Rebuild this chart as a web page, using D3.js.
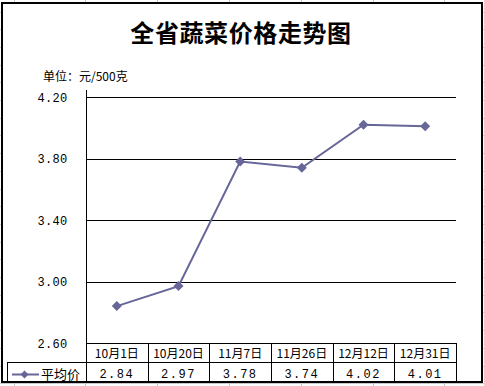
<!DOCTYPE html>
<html>
<head>
<meta charset="utf-8">
<script src="https://cdn.jsdelivr.net/npm/d3@7"></script>
<style>
  body { margin: 0; background: #fff; }
  svg { display: block; }
</style>
</head>
<body>
<svg width="484" height="386"></svg>
<script>
// data
const categories = ["10月1日", "10月20日", "11月7日", "11月26日", "12月12日", "12月31日"];
const prices = [2.84, 2.97, 3.78, 3.74, 4.02, 4.01];
const yTicks = [2.6, 3.0, 3.4, 3.8, 4.2];
const seriesName = "平均价";
const title = "全省蔬菜价格走势图";
const unitLabel = "单位：元/500克";

let svg = d3.select("svg");
let cjk = "'Noto Sans CJK SC', sans-serif";
let mono = "'Liberation Mono', 'DejaVu Sans Mono', monospace";
let color = "#666699";

// excel sheet grid behind the chart object
let sheet = svg.append("g").attr("stroke", "#c8c8c8").attr("shape-rendering", "crispEdges");
sheet.selectAll(".vcol").data(d3.range(13.5, 484, 71.8)).enter().append("line")
  .attr("x1", d => Math.round(d) + 0.5).attr("x2", d => Math.round(d) + 0.5)
  .attr("y1", 0).attr("y2", 386);
sheet.selectAll(".hrow").data(d3.range(11.5, 386, 17.7)).enter().append("line")
  .attr("x1", 0).attr("x2", 484)
  .attr("y1", d => Math.round(d) + 0.5).attr("y2", d => Math.round(d) + 0.5);

// chart object
svg.append("rect")
  .attr("x", 2).attr("y", 3).attr("width", 480).attr("height", 379)
  .attr("fill", "#fff").attr("stroke", "#000").attr("stroke-width", 2)
  .attr("shape-rendering", "crispEdges");

svg.append("text")
  .attr("x", 241).attr("y", 42)
  .attr("text-anchor", "middle")
  .style("font-family", cjk).style("font-size", "24px").style("font-weight", "bold")
  .style("letter-spacing", "0.6px")
  .text(title);

svg.append("text")
  .attr("x", 43).attr("y", 81)
  .style("font-family", cjk).style("font-size", "12px")
  .text(unitLabel);

let x = d3.scaleBand().domain(categories).range([86, 456]);
let y = d3.scaleLinear().domain([2.6, 4.2]).range([343, 97]);

let plot = svg.append("g").attr("shape-rendering", "crispEdges");

// gridlines
plot.selectAll(".grid").data(yTicks.slice(1)).enter().append("line")
  .attr("x1", 86).attr("x2", 456)
  .attr("y1", d => Math.round(y(d)) + 0.5).attr("y2", d => Math.round(y(d)) + 0.5)
  .attr("stroke", "#000");

// y axis
let yAxis = svg.append("g")
  .attr("transform", "translate(86.5,0)")
  .call(d3.axisLeft(y).tickValues(yTicks).tickFormat(d3.format(".2f")).tickSize(0).tickPadding(19));
yAxis.select(".domain").remove();
yAxis.selectAll("text")
  .style("font-family", mono).style("font-size", "12px").style("letter-spacing", "0.3px")
  .attr("fill", "#000")
  .attr("dy", "0.35em");
svg.append("line")
  .attr("x1", 86.5).attr("x2", 86.5).attr("y1", 90).attr("y2", 382)
  .attr("stroke", "#000").attr("shape-rendering", "crispEdges");

// data table
let table = svg.append("g").attr("stroke", "#000").attr("shape-rendering", "crispEdges");
[343.5, 362.5, 381.5].forEach((yy, i) => {
  table.append("line").attr("x1", i === 0 ? 86 : 7).attr("x2", 456)
    .attr("y1", yy).attr("y2", yy);
});
table.selectAll(".col").data(categories).enter().append("line")
  .attr("x1", d => Math.round(x(d) + x.bandwidth()) + 0.5)
  .attr("x2", d => Math.round(x(d) + x.bandwidth()) + 0.5)
  .attr("y1", 343).attr("y2", 382);
table.append("line").attr("x1", 7.5).attr("x2", 7.5).attr("y1", 362).attr("y2", 382);

svg.selectAll(".cat").data(categories).enter().append("text")
  .attr("x", d => x(d) + x.bandwidth() / 2).attr("y", 357.5)
  .attr("text-anchor", "middle")
  .style("font-family", cjk).style("font-size", "12px")
  .text(d => d);

svg.selectAll(".val").data(prices).enter().append("text")
  .attr("x", (d, i) => x(categories[i]) + x.bandwidth() / 2).attr("y", 377.5)
  .attr("text-anchor", "middle")
  .style("font-family", mono).style("font-size", "12px").style("letter-spacing", "1.5px")
  .text(d => d.toFixed(2));

// legend key in the table
let diamond = "M0,-5L5,0L0,5L-5,0Z";
svg.append("line").attr("x1", 12).attr("x2", 39).attr("y1", 374.5).attr("y2", 374.5)
  .attr("stroke", color).attr("stroke-width", 2);
svg.append("path").attr("d", "M0,-4L4,0L0,4L-4,0Z").attr("transform", "translate(24.5,374.5)").attr("fill", color);
svg.append("text")
  .attr("x", 41).attr("y", 379)
  .style("font-family", cjk).style("font-size", "13px")
  .text(seriesName);

// series
let pts = prices.map((v, i) => [x(categories[i]) + x.bandwidth() / 2, y(v)]);
svg.append("path")
  .attr("d", d3.line()(pts))
  .attr("fill", "none").attr("stroke", color).attr("stroke-width", 2);
svg.selectAll(".mark").data(pts).enter().append("path")
  .attr("d", diamond)
  .attr("transform", d => `translate(${d[0]},${d[1]})`)
  .attr("fill", color);
</script>
</body>
</html>
